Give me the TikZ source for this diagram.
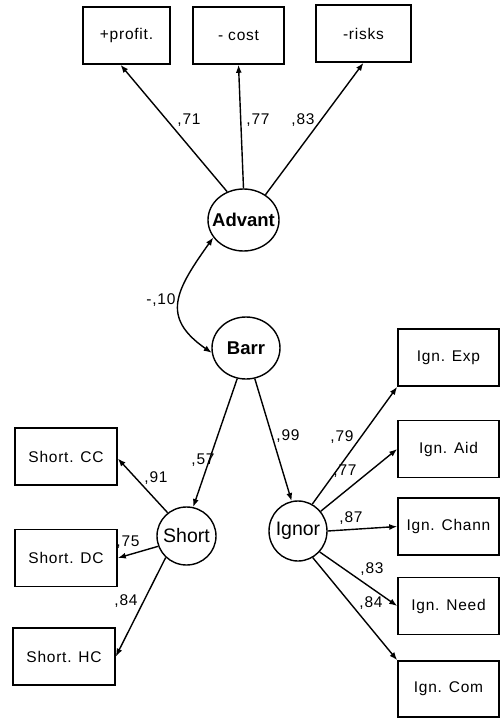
\documentclass[tikz,border=0pt]{standalone}
\usepackage{fontspec}
\setmainfont{Liberation Sans}
\newfontfamily\semfont[LetterSpace=5]{Liberation Sans}
\usetikzlibrary{shapes.geometric,arrows.meta}

\begin{document}
\begin{tikzpicture}[x=1pt,y=-1pt,
  obs/.style={draw,line width=1.6pt,rectangle,minimum width=101pt,minimum height=57pt,inner sep=0pt,font=\semfont\fontsize{15.5}{18}\selectfont},
  lat/.style n args={2}{draw,line width=1.4pt,ellipse,inner sep=0pt,minimum width=#1,minimum height=#2,font=\fontsize{19.5}{22}\selectfont},
  load/.style={line width=1.4pt,-{Latex[length=8pt,width=6pt]}},
  coef/.style={inner sep=0pt,font=\semfont\fontsize{15.5}{18}\selectfont}]
\useasboundingbox (0,0) rectangle (500,718);
% indicators of Advant
\node[obs,minimum width=87pt] (prof) at (126.5,35.5) {+profit.};
\node[obs,minimum width=91pt] (cost) at (238.5,35.5) {- cost};
\node[obs,minimum width=95pt] (risk) at (363.5,33.5) {-risks};
% latent variables
\node[lat={71pt}{62pt}] (adv) at (243.5,220) {\makebox[0pt]{\fontsize{18.5}{22}\selectfont\bfseries Advant}};
\node[lat={68pt}{62pt}] (barr) at (246,348) {\makebox[0pt]{\fontsize{18.5}{22}\selectfont\bfseries Barr}};
\node[lat={59pt}{58pt}] (short) at (186.5,536) {\makebox[0pt]{Short}};
\node[lat={58pt}{60pt}] (ignor) at (298,531) {\makebox[0pt]{Ignor}};
% indicators of Short and Ignor
\node[obs,minimum width=102pt] (scc) at (66,456.5) {Short. CC};
\node[obs,minimum width=102pt] (sdc) at (66,558) {Short. DC};
\node[obs,minimum width=102pt] (shc) at (64,656.5) {Short. HC};
\node[obs] (iexp) at (448.5,357.5) {Ign. Exp};
\node[obs] (iaid) at (448.5,449) {Ign. Aid};
\node[obs] (ichann) at (448.5,526.5) {Ign. Chann};
\node[obs] (ineed) at (448.5,606) {Ign. Need};
\node[obs,minimum height=56pt] (icom) at (448.5,689) {Ign. Com};
% paths
\draw[load] (adv.120) -- ([xshift=-6pt]prof.south);
\draw[load] (adv.north) -- (cost.south);
\draw[load] (adv.49) -- (risk.south);
\draw[load,{Latex[length=8pt,width=6pt]}-{Latex[length=8pt,width=6pt]}]
   (adv.210) .. controls (176,290) and (160,317) .. (barr.188);
\draw[load] (barr.254) -- (short.77);
\draw[load] (barr.286) -- (ignor.102);
\draw[load] (short.129) -- ([yshift=-2pt]scc.east);
\draw[load] (short.200) -- (sdc.east);
\draw[load] (short.226) -- (shc.east);
\draw[load] (ignor.62) -- (iexp.south west);
\draw[load] (ignor.41) -- (iaid.west);
\draw[load] (ignor.east) -- (ichann.west);
\draw[load] (ignor.316) -- (ineed.west);
\draw[load] (ignor.299) -- (icom.north west);
% coefficients
\node[coef] (c71) at (189,120) {,71};
\node[coef] (c77) at (258,120) {,77};
\node[coef] (c83) at (303,120) {,83};
\node[coef] (c10) at (161,300) {-,10};
\node[coef] (c57) at (203,460) {,57};
\node[coef] (c99) at (288,436) {,99};
\node[coef] (c91) at (156,478) {,91};
\node[coef] (c75) at (128,542) {,75};
\node[coef] (c84s) at (126,601) {,84};
\node[coef] (c79) at (342,437) {,79};
\node[coef] (c77i) at (345,471) {,77};
\node[coef] (c87) at (351,518) {,87};
\node[coef] (c83i) at (372,569) {,83};
\node[coef] (c84i) at (371,603) {,84};
\end{tikzpicture}
\end{document}
